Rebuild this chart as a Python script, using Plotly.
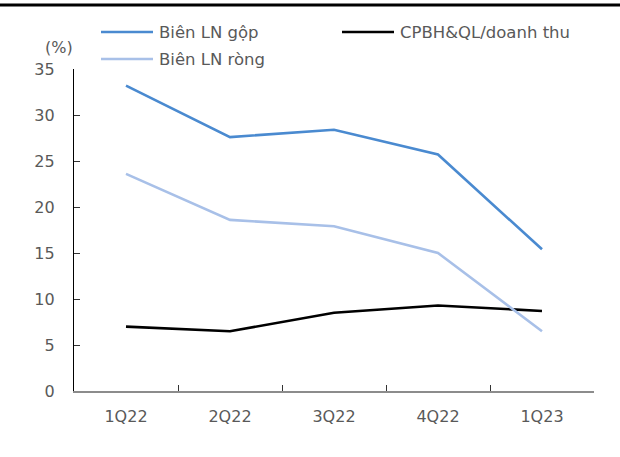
import plotly.graph_objects as go

categories = ["1Q22", "2Q22", "3Q22", "4Q22", "1Q23"]
bien_ln_gop = [33.2, 27.6, 28.4, 25.7, 15.4]
cpbh_ql_dt = [7.0, 6.5, 8.5, 9.3, 8.7]
bien_ln_rong = [23.6, 18.6, 17.9, 15.0, 6.5]
y_ticks = [0, 5, 10, 15, 20, 25, 30, 35]

series = [
    ("Biên LN gộp", bien_ln_gop, "#4A8AD0"),
    ("CPBH&QL/doanh thu", cpbh_ql_dt, "#000000"),
    ("Biên LN ròng", bien_ln_rong, "#A8C0E8"),
]

W, H = 620, 457
L, R, T, B = 74, 26, 69, 66
PW, PH = W - L - R, H - T - B

def px(x):
    return (x - L) / PW

def py(y):
    return (H - B - y) / PH

FONT = "DejaVu Sans"
GREY = "#595959"

fig = go.Figure()
for name, vals, col in series:
    fig.add_trace(go.Scatter(x=categories, y=vals, mode="lines", name=name,
                             line=dict(color=col, width=2.6), showlegend=False,
                             hoverinfo="skip"))

# legend drawn manually (long line samples)
legend_pos = [(101, 32), (342, 32), (101, 59)]
shapes = []
annotations = []
for (name, vals, col), (lx, ly) in zip(series, legend_pos):
    shapes.append(dict(type="line", xref="paper", yref="paper",
                       x0=px(lx), x1=px(lx + 52), y0=py(ly), y1=py(ly),
                       line=dict(color=col, width=2.6)))
    annotations.append(dict(xref="paper", yref="paper", x=px(lx + 56), y=py(ly),
                            xanchor="left", yanchor="middle", showarrow=False,
                            text=name, font=dict(family=FONT, size=16.5, color=GREY)))

annotations.append(dict(xref="paper", yref="paper", x=px(59), y=py(48),
                        xanchor="center", yanchor="middle", showarrow=False,
                        text="(%)", font=dict(family=FONT, size=16, color=GREY)))

# top rule
shapes.append(dict(type="line", xref="paper", yref="paper",
                   x0=px(0), x1=px(W), y0=py(5), y1=py(5),
                   line=dict(color="#000000", width=3)))

fig.update_layout(
    width=W, height=H,
    margin=dict(l=L, r=R, t=T, b=B, pad=0),
    paper_bgcolor="white", plot_bgcolor="white",
    font=dict(family=FONT, size=16, color=GREY),
    shapes=shapes, annotations=annotations,
    xaxis=dict(type="category", range=[-0.5, 4.5], tickson="boundaries",
               ticks="inside", ticklen=6, tickcolor="#333333", tickwidth=1.3,
               showline=True, linecolor="#8c8c8c", linewidth=1.5,
               showgrid=False, zeroline=False, ticklabelstandoff=10,
               tickfont=dict(family=FONT, size=16, color=GREY)),
    yaxis=dict(range=[0, 35], tickvals=y_ticks, ticks="inside", ticklen=6,
               tickcolor="#333333", tickwidth=1.3,
               showline=True, linecolor="#000000", linewidth=1.3,
               showgrid=False, zeroline=False, ticklabelstandoff=15,
               tickfont=dict(family=FONT, size=16, color=GREY)),
)

fig.write_html("out.html", config={"displayModeBar": False},
               post_script="document.body.style.margin='0';document.body.style.overflow='hidden';")
